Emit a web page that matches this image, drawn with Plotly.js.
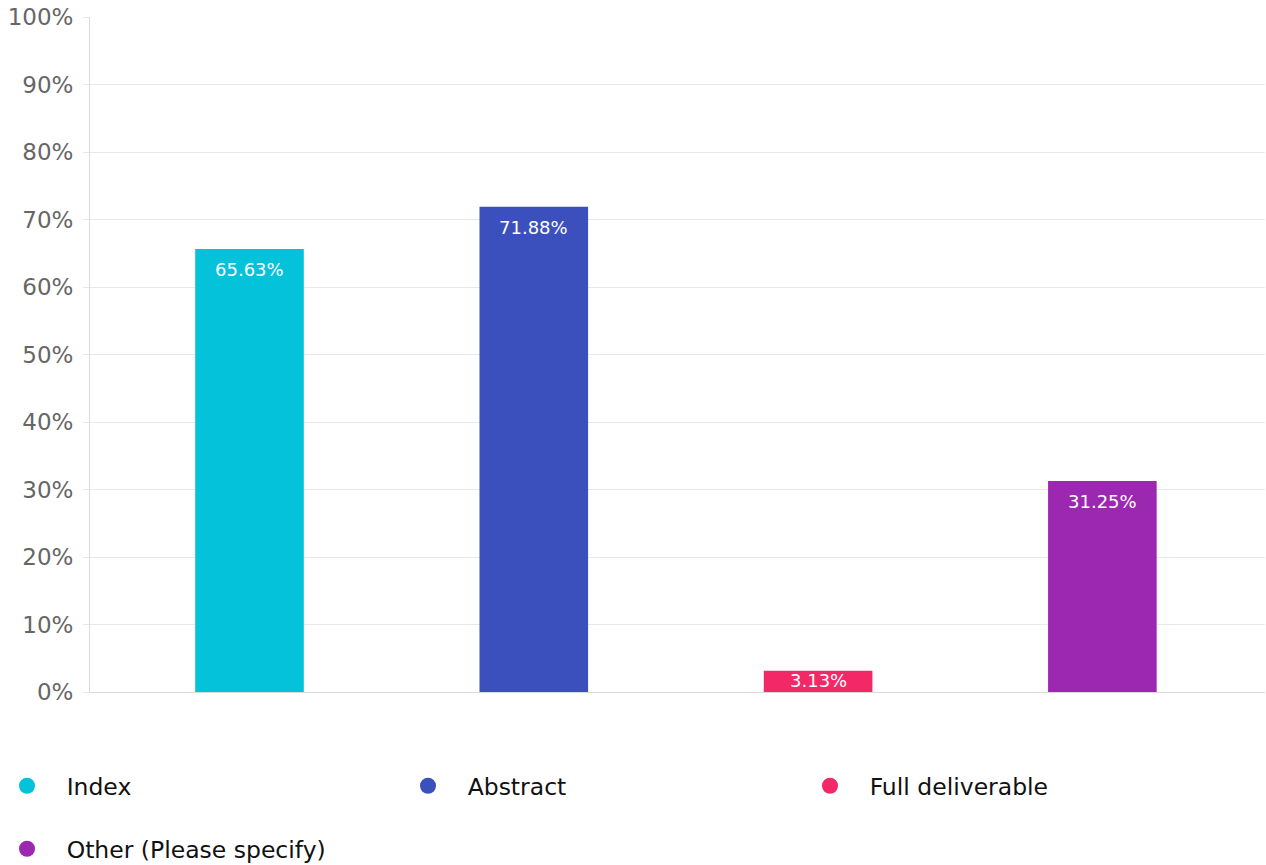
<!DOCTYPE html>
<html>
<head>
<meta charset="utf-8">
<script src="https://cdn.plot.ly/plotly-3.0.1.min.js"></script>
<style>html,body{margin:0;padding:0;background:#fff;}#chart{width:1266px;height:865px;}</style>
</head>
<body>
<div id="chart"></div>
<script>
var categories = ["Index", "Abstract", "Full deliverable", "Other (Please specify)"];
var values = [65.63, 71.88, 3.13, 31.25];
var colors = ["#04c2d9", "#3b50bd", "#f32866", "#9c27b0"];
var yTickVals = [0, 10, 20, 30, 40, 50, 60, 70, 80, 90, 100];
var yTickText = ["0%", "10%", "20%", "30%", "40%", "50%", "60%", "70%", "80%", "90%", "100%"];

var FONT = "DejaVu Sans, sans-serif";
var traces = [];
var annotations = [];
categories.forEach(function (c, i) {
  traces.push({
    type: "bar",
    x: [i],
    y: [values[i]],
    width: 0.382,
    marker: { color: colors[i] },
    showlegend: false,
    hoverinfo: "skip",
    name: c
  });
  var small = values[i] < 6;
  annotations.push({
    x: i, y: small ? values[i] / 2 : values[i],
    xref: "x", yref: "y",
    text: values[i].toFixed(2) + "%",
    showarrow: false,
    yanchor: small ? "middle" : "top",
    yshift: small ? 1 : -8,
    font: { family: FONT, size: 18, color: "#ffffff" }
  });
});

// legend placement (container px)
var legendX = [7, 408, 810, 7];
var legendY = [786, 786, 786, 849];
var legendNames = ["legend", "legend2", "legend3", "legend4"];
categories.forEach(function (c, i) {
  traces.push({
    type: "scatter",
    mode: "markers",
    x: [null], y: [null],
    name: "\u00a0\u00a0\u2009" + c,
    marker: { color: colors[i], size: 16, symbol: "circle" },
    legend: legendNames[i],
    showlegend: true,
    hoverinfo: "skip"
  });
});

var layout = {
  width: 1266, height: 865,
  margin: { l: 90, r: 1, t: 17, b: 173 },
  paper_bgcolor: "#ffffff",
  plot_bgcolor: "#ffffff",
  font: { family: FONT },
  barmode: "overlay",
  xaxis: {
    range: [-0.561, 3.572],
    showticklabels: false,
    showgrid: false,
    zeroline: false,
    showline: true,
    linecolor: "#d9d9d9",
    linewidth: 1,
    ticks: "",
    fixedrange: true
  },
  yaxis: {
    range: [0, 100],
    tickmode: "array",
    tickvals: yTickVals,
    ticktext: yTickText,
    showgrid: true,
    gridcolor: "#e8e8e8",
    gridwidth: 1,
    zeroline: false,
    showline: true,
    linecolor: "#d9d9d9",
    ticks: "outside",
    ticklen: 6,
    tickcolor: "#e8e8e8",
    ticklabelstandoff: 5,
    tickfont: { family: FONT, size: 23, color: "#666666" },
    fixedrange: true
  },
  annotations: annotations,
  showlegend: true
};
legendNames.forEach(function (ln, i) {
  layout[ln] = {
    orientation: "h",
    xref: "container", yref: "container",
    x: legendX[i] / 1266, xanchor: "left",
    y: 1 - legendY[i] / 865, yanchor: "middle",
    font: { family: FONT, size: 23.5, color: "#111111" },
    itemclick: false, itemdoubleclick: false,
    bgcolor: "rgba(0,0,0,0)"
  };
});
Plotly.newPlot("chart", traces, layout, { displayModeBar: false, staticPlot: true });
</script>
</body>
</html>
